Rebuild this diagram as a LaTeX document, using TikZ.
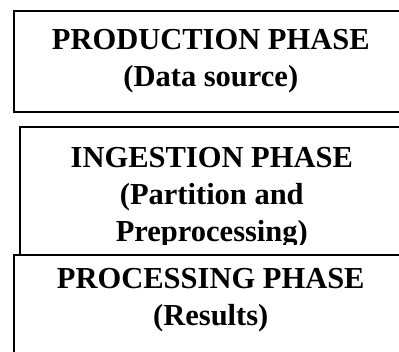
\documentclass[tikz,border=0pt]{standalone}
\usepackage{fontspec}
\setmainfont{Liberation Serif}
\usepackage{tikz}
\usetikzlibrary{positioning}
\newcommand{\phasefont}{\fontsize{30.5}{37}\selectfont\bfseries}

\begin{document}
\begin{tikzpicture}[
    x=1pt, y=-1pt,
    phase/.style={draw=black, line width=1.6pt, fill=white, anchor=north west, align=center, font=\phasefont, inner sep=0pt, minimum width=394pt}
]
\useasboundingbox (0,0) rectangle (399,351);
\node[phase, minimum height=101pt] (production) at (13,10) {PRODUCTION PHASE\\(Data source)};
\node[phase, minimum width=384pt, minimum height=137pt] (ingestion) at (19,126) {};
\begin{scope}
  \clip (19,126) rectangle (403,244);
  \node[font=\phasefont, align=center, inner sep=0pt, yshift=-2pt] (ingesttext) at (ingestion.center) {INGESTION PHASE\\(Partition and\\Preprocessing)};
\end{scope}
\node[phase, minimum height=101pt, text depth=17pt] (processing) at (13,254) {PROCESSING PHASE\\(Results)};
\end{tikzpicture}
\end{document}
